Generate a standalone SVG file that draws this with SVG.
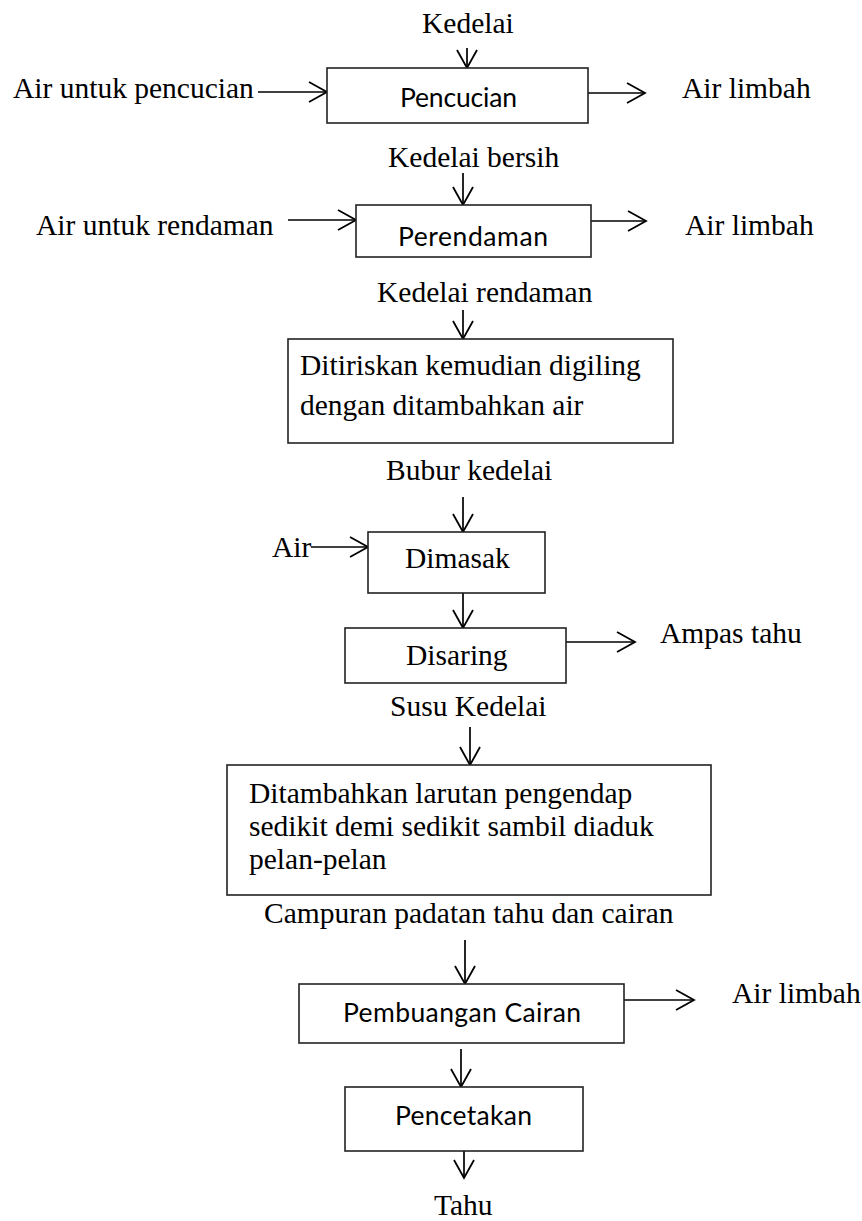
<svg xmlns="http://www.w3.org/2000/svg" width="862" height="1221" viewBox="0 0 862 1221">
  <style>
    .box { fill: #ffffff; stroke: #222222; stroke-width: 1.6; }
    .serif { font-family: "Liberation Serif", "Times New Roman", serif; font-size: 29.5px; fill: #000000; }
    .sans { font-family: Lato, "Open Sans", sans-serif; font-size: 26.5px; fill: #000000; }
    .flow { stroke: #000000; stroke-width: 1.7; fill: none; marker-end: url(#arrow); }
  </style>
  <defs>
    <marker id="arrow" viewBox="-21 -12 23 24" refX="0" refY="0" markerWidth="23" markerHeight="24" markerUnits="userSpaceOnUse" orient="auto" overflow="visible">
      <path d="M-18,-10 L0,0 L-18,10" fill="none" stroke="#000000" stroke-width="1.8"/>
    </marker>
  </defs>
  <rect width="862" height="1221" fill="#ffffff"/>

  <!-- process flow connectors -->
  <g id="connectors">
    <line class="flow" x1="467" y1="48" x2="467" y2="68"/>
    <line class="flow" x1="258" y1="92" x2="327" y2="92"/>
    <line class="flow" x1="588" y1="93" x2="645" y2="93"/>
    <line class="flow" x1="463" y1="173" x2="463" y2="205"/>
    <line class="flow" x1="288" y1="220" x2="356" y2="220"/>
    <line class="flow" x1="591" y1="221" x2="646" y2="221"/>
    <line class="flow" x1="463" y1="310" x2="463" y2="339"/>
    <line class="flow" x1="463" y1="497" x2="463" y2="532"/>
    <line class="flow" x1="311" y1="547" x2="368" y2="547"/>
    <line class="flow" x1="463" y1="593" x2="463" y2="628"/>
    <line class="flow" x1="566" y1="642" x2="635" y2="642"/>
    <line class="flow" x1="470" y1="727" x2="470" y2="765"/>
    <line class="flow" x1="465" y1="940" x2="465" y2="984"/>
    <line class="flow" x1="624" y1="1000" x2="694" y2="1000"/>
    <line class="flow" x1="461" y1="1049" x2="461" y2="1087"/>
    <line class="flow" x1="464" y1="1151" x2="464" y2="1178"/>
  </g>

  <!-- free labels: inputs, outputs and intermediate products -->
  <g id="labels">
    <text class="serif" x="422" y="33">Kedelai</text>
    <text class="serif" x="13" y="98">Air untuk pencucian</text>
    <text class="serif" x="682" y="98">Air limbah</text>
    <text class="serif" x="388" y="167">Kedelai bersih</text>
    <text class="serif" x="36" y="235">Air untuk rendaman</text>
    <text class="serif" x="685" y="235">Air limbah</text>
    <text class="serif" x="377" y="302">Kedelai rendaman</text>
    <text class="serif" x="386" y="480">Bubur kedelai</text>
    <text class="serif" x="272" y="557">Air</text>
    <text class="serif" x="660" y="643">Ampas tahu</text>
    <text class="serif" x="390" y="716">Susu Kedelai</text>
    <text class="serif" x="264" y="923">Campuran padatan tahu dan cairan</text>
    <text class="serif" x="732" y="1003">Air limbah</text>
    <text class="serif" x="434" y="1215">Tahu</text>
  </g>

  <g id="pencucian">
    <rect class="box" x="327" y="68" width="261" height="55"/>
    <text class="sans" x="400" y="107" textLength="117">Pencucian</text>
  </g>

  <g id="perendaman">
    <rect class="box" x="356" y="205" width="235" height="52"/>
    <text class="sans" x="398" y="246" textLength="150">Perendaman</text>
  </g>

  <g id="penggilingan">
    <rect class="box" x="288" y="339" width="385" height="104"/>
    <text class="serif" x="300" y="375">Ditiriskan kemudian digiling</text>
    <text class="serif" x="300" y="415">dengan ditambahkan air</text>
  </g>

  <g id="dimasak">
    <rect class="box" x="368" y="532" width="177" height="61"/>
    <text class="serif" x="405" y="568">Dimasak</text>
  </g>

  <g id="disaring">
    <rect class="box" x="345" y="628" width="221" height="55"/>
    <text class="serif" x="406" y="665">Disaring</text>
  </g>

  <g id="penggumpalan">
    <rect class="box" x="227" y="765" width="484" height="130"/>
    <text class="serif" x="249" y="803">Ditambahkan larutan pengendap</text>
    <text class="serif" x="249" y="836">sedikit demi sedikit sambil diaduk</text>
    <text class="serif" x="249" y="869">pelan-pelan</text>
  </g>

  <g id="pembuangan-cairan">
    <rect class="box" x="299" y="984" width="325" height="59"/>
    <text class="sans" x="343" y="1022" textLength="238">Pembuangan Cairan</text>
  </g>

  <g id="pencetakan">
    <rect class="box" x="345" y="1087" width="238" height="64"/>
    <text class="sans" x="395" y="1125" textLength="137">Pencetakan</text>
  </g>
</svg>
